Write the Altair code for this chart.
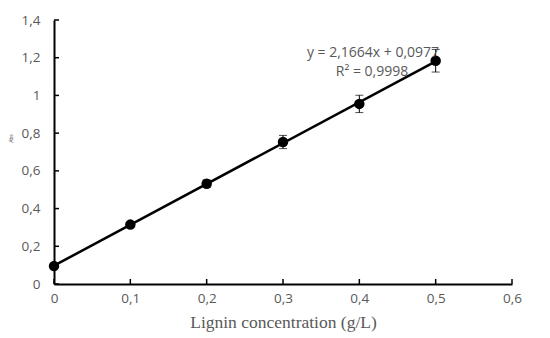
import altair as alt
import pandas as pd

conc = [0.0, 0.1, 0.2, 0.3, 0.4, 0.5]
absorb = [0.095, 0.315, 0.532, 0.753, 0.955, 1.184]
err = [0.005, 0.012, 0.02, 0.035, 0.046, 0.06]
x_ticks = [0, 0.1, 0.2, 0.3, 0.4, 0.5, 0.6]
y_ticks = [0, 0.2, 0.4, 0.6, 0.8, 1.0, 1.2, 1.4]
eq_lines = ["y = 2,1664x + 0,0977", "R² = 0,9998"]

df = pd.DataFrame({"x": conc, "y": absorb,
                   "lo": [a - e for a, e in zip(absorb, err)],
                   "hi": [a + e for a, e in zip(absorb, err)]})

GRAY = "#595959"
W, H = 458, 264

xs = alt.Scale(domain=[0, 0.6], nice=False)
ys = alt.Scale(domain=[0, 1.4], nice=False)

fmt_x = "replace(format(datum.value, '.1~f'), '.', ',')"

XA = alt.Axis(values=x_ticks, labelExpr=fmt_x, title="Lignin concentration (g/L)",
              titleFont="Liberation Serif", titleFontSize=17.5, titleFontWeight="normal",
              titleColor=GRAY, titlePadding=9,
              labelFont="Open Sans", labelFontSize=13.5, labelColor=GRAY,
              labelPadding=7, tickSize=0, domainColor="black", domainWidth=2,
              labelOverlap=False, labelFlush=False, grid=False)
YA = alt.Axis(values=y_ticks, labelExpr=fmt_x, title="Abs",
              titleFontSize=5, titleColor=GRAY, titleFontWeight="normal",
              titleX=-41, titleY=118, titleAngle=-90,
              labelFont="Open Sans", labelFontSize=13.5, labelColor=GRAY,
              labelPadding=14, tickSize=0, domainColor="black", domainWidth=2,
              labelOverlap=False, labelFlush=False, grid=False)


def X(f):
    return alt.X(f, scale=xs, axis=XA, title="Lignin concentration (g/L)")


def Y(f):
    return alt.Y(f, scale=ys, axis=YA, title="Abs")


base = alt.Chart(df)

line = base.transform_regression("x", "y").mark_line(color="black", strokeWidth=2.5).encode(
    x=X("x:Q"), y=Y("y:Q"))

rule = base.mark_rule(color="black", strokeWidth=1).encode(
    x=X("x:Q"), y=Y("lo:Q"), y2="hi:Q")
cap_lo = base.mark_tick(color="black", thickness=1, size=8, orient="horizontal").encode(
    x=X("x:Q"), y=Y("lo:Q"))
cap_hi = base.mark_tick(color="black", thickness=1, size=8, orient="horizontal").encode(
    x=X("x:Q"), y=Y("hi:Q"))

pts = base.mark_point(filled=True, color="black", opacity=1, size=110).encode(
    x=X("x:Q"), y=Y("y:Q"))

xt = alt.Chart(pd.DataFrame({"t": x_ticks})).mark_rule(color="black", strokeWidth=1.5).encode(
    x=X("t:Q"), y=alt.value(H), y2=alt.value(H - 5))
yt = alt.Chart(pd.DataFrame({"t": y_ticks})).mark_rule(color="black", strokeWidth=1.5).encode(
    y=Y("t:Q"), x=alt.value(0), x2=alt.value(5))

eq1 = alt.Chart(pd.DataFrame({"t": [eq_lines[0]]})).mark_text(
    font="Open Sans", fontSize=14, color=GRAY, align="center", baseline="middle").encode(
    text="t:N", x=alt.value(319), y=alt.value(33))
eq2 = alt.Chart(pd.DataFrame({"t": [eq_lines[1]]})).mark_text(
    font="Open Sans", fontSize=14, color=GRAY, align="center", baseline="middle").encode(
    text="t:N", x=alt.value(318), y=alt.value(52))

chart = alt.layer(line, xt, yt, rule, cap_lo, cap_hi, pts, eq1, eq2).properties(
    width=W, height=H,
    padding={"left": 46, "top": 12, "right": 30, "bottom": 62},
    autosize=alt.AutoSizeParams(type="none"),
).configure_view(stroke=None)

chart.save("out.html", embed_options={"renderer": "svg", "actions": False})
